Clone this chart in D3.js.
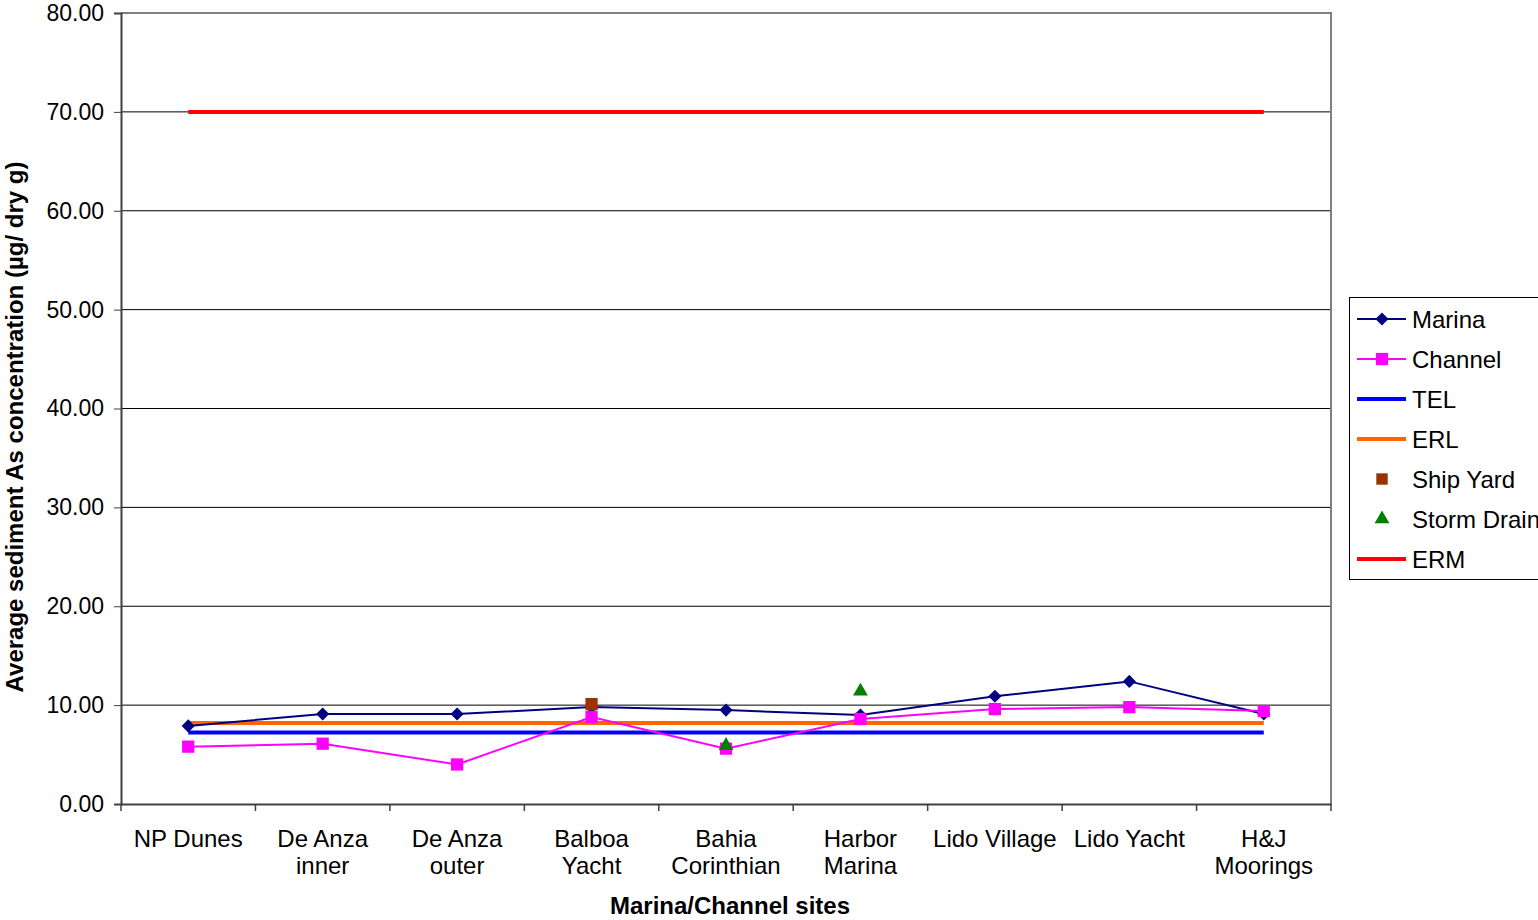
<!DOCTYPE html>
<html>
<head>
<meta charset="utf-8">
<script src="https://cdn.jsdelivr.net/npm/d3@7"></script>
<style>
  body { margin: 0; background: #fff; }
  svg { font-family: "Liberation Sans", Arial, sans-serif; }
</style>
</head>
<body>
<svg id="chart" width="1538" height="920"></svg>
<script>
var sites = ["NP Dunes", "De Anza inner", "De Anza outer", "Balboa Yacht", "Bahia Corinthian",
             "Harbor Marina", "Lido Village", "Lido Yacht", "H&J Moorings"]
var siteLines = [["NP Dunes"], ["De Anza", "inner"], ["De Anza", "outer"], ["Balboa", "Yacht"],
                 ["Bahia", "Corinthian"], ["Harbor", "Marina"], ["Lido Village"], ["Lido Yacht"], ["H&J", "Moorings"]]
var marina = [7.9, 9.1, 9.1, 9.8, 9.5, 9.0, 10.9, 12.4, 9.1]
var channel = [5.8, 6.1, 4.0, 8.8, 5.6, 8.6, 9.6, 9.8, 9.4]
var shipYard = [{site: "Balboa Yacht", value: 10.1}]
var stormDrain = [{site: "Bahia Corinthian", value: 5.9}, {site: "Harbor Marina", value: 11.4}]
var TEL = 7.24
var ERL = 8.2
var ERM = 70
var yTicks = [0, 10, 20, 30, 40, 50, 60, 70, 80]

var dimensions = {
    width: 1538,
    height: 920,
    margin: {top: 13, bottom: 116, left: 121, right: 207}
}
var plotW = dimensions.width - dimensions.margin.left - dimensions.margin.right
var plotH = dimensions.height - dimensions.margin.top - dimensions.margin.bottom

var svg = d3.select("#chart")

var x = d3.scaleBand()
          .domain(sites)
          .range([dimensions.margin.left, dimensions.margin.left + plotW])
var xc = d => x(d) + x.bandwidth() / 2

var y = d3.scaleLinear()
          .domain([0, 80])
          .range([dimensions.margin.top + plotH, dimensions.margin.top])

// gridlines
svg.append("g")
   .selectAll("line")
   .data(yTicks.filter(t => t > 0))
   .enter()
   .append("line")
   .attr("x1", dimensions.margin.left)
   .attr("x2", dimensions.margin.left + plotW)
   .attr("y1", d => y(d))
   .attr("y2", d => y(d))
   .attr("stroke", "#000")
   .attr("stroke-width", 1)

// plot border right and top
svg.append("path")
   .attr("d", `M${dimensions.margin.left},${y(80)}H${dimensions.margin.left + plotW}V${y(0)}`)
   .attr("fill", "none")
   .attr("stroke", "#808080")
   .attr("stroke-width", 2)

// y axis
var yAxis = svg.append("g")
               .attr("transform", `translate(${dimensions.margin.left},0)`)
               .call(d3.axisLeft(y).tickValues(yTicks).tickFormat(d3.format(".2f")).tickSize(7).tickPadding(10))
yAxis.select(".domain").attr("stroke", "#404040").attr("stroke-width", 2)
yAxis.selectAll(".tick line").attr("stroke", "#404040")
yAxis.selectAll("text").style("font-size", "23px").attr("fill", "#000").attr("font-family", "Liberation Sans, Arial, sans-serif")

// x axis
var xAxis = svg.append("g")
               .attr("transform", `translate(0,${y(0)})`)
               .call(d3.axisBottom(x).tickSize(0).tickFormat(""))
xAxis.select(".domain").attr("stroke", "#404040").attr("stroke-width", 2)
svg.append("g")
   .selectAll("line")
   .data(sites.map(d => x(d)).concat([dimensions.margin.left + plotW]))
   .enter()
   .append("line")
   .attr("x1", d => d)
   .attr("x2", d => d)
   .attr("y1", y(0))
   .attr("y2", y(0) + 7)
   .attr("stroke", "#404040")
   .attr("stroke-width", 1.5)

var catLabels = svg.append("g")
                   .selectAll("text")
                   .data(sites)
                   .enter()
                   .append("text")
                   .attr("x", d => xc(d))
                   .attr("y", 847)
                   .attr("text-anchor", "middle")
                   .style("font-size", "24px")
catLabels.each(function(d, i) {
    var t = d3.select(this)
    siteLines[i].forEach((line, j) => {
        t.append("tspan").attr("x", xc(d)).attr("dy", j === 0 ? 0 : 27).text(line)
    })
})

// axis titles
svg.append("text")
   .attr("x", 730)
   .attr("y", 914)
   .attr("text-anchor", "middle")
   .style("font-size", "24px")
   .style("font-weight", "bold")
   .text("Marina/Channel sites")

svg.append("text")
   .attr("transform", `translate(23,427) rotate(-90)`)
   .attr("text-anchor", "middle")
   .style("font-size", "24px")
   .style("font-weight", "bold")
   .text("Average sediment As concentration (µg/ dry g)")

// reference lines
var refLines = [{name: "TEL", value: TEL, color: "#0000FF"},
                {name: "ERL", value: ERL, color: "#FF6600"},
                {name: "ERM", value: ERM, color: "#FF0000"}]
svg.append("g")
   .selectAll("line")
   .data(refLines)
   .enter()
   .append("line")
   .attr("x1", xc(sites[0]))
   .attr("x2", xc(sites[sites.length - 1]))
   .attr("y1", d => y(d.value))
   .attr("y2", d => y(d.value))
   .attr("stroke", d => d.color)
   .attr("stroke-width", 4)

// series lines
var line = d3.line().x((d, i) => xc(sites[i])).y(d => y(d))

svg.append("path")
   .datum(marina)
   .attr("d", line)
   .attr("fill", "none")
   .attr("stroke", "#000080")
   .attr("stroke-width", 2)

svg.append("path")
   .datum(channel)
   .attr("d", line)
   .attr("fill", "none")
   .attr("stroke", "#FF00FF")
   .attr("stroke-width", 2)

var diamond = d3.symbol().type(d3.symbolDiamond2).size(110)
var square = d3.symbol().type(d3.symbolSquare).size(150)
var triangle = d3.symbol().type(d3.symbolTriangle).size(95)

svg.append("g")
   .selectAll("path")
   .data(marina)
   .enter()
   .append("path")
   .attr("d", diamond)
   .attr("transform", (d, i) => `translate(${xc(sites[i])},${y(d)})`)
   .attr("fill", "#000080")

svg.append("g")
   .selectAll("path")
   .data(channel)
   .enter()
   .append("path")
   .attr("d", square)
   .attr("transform", (d, i) => `translate(${xc(sites[i])},${y(d)})`)
   .attr("fill", "#FF00FF")

svg.append("g")
   .selectAll("path")
   .data(shipYard)
   .enter()
   .append("path")
   .attr("d", square)
   .attr("transform", d => `translate(${xc(d.site)},${y(d.value)})`)
   .attr("fill", "#993300")

svg.append("g")
   .selectAll("path")
   .data(stormDrain)
   .enter()
   .append("path")
   .attr("d", triangle)
   .attr("transform", d => `translate(${xc(d.site)},${y(d.value)})`)
   .attr("fill", "#008000")

// legend
var legendItems = [
    {name: "Marina", color: "#000080", line: 2, sym: diamond},
    {name: "Channel", color: "#FF00FF", line: 2, sym: square},
    {name: "TEL", color: "#0000FF", line: 4, sym: null},
    {name: "ERL", color: "#FF6600", line: 4, sym: null},
    {name: "Ship Yard", color: "#993300", line: 0, sym: d3.symbol().type(d3.symbolSquare).size(130)},
    {name: "Storm Drain", color: "#008000", line: 0, sym: triangle},
    {name: "ERM", color: "#FF0000", line: 4, sym: null}
]

svg.append("rect")
   .attr("x", 1349.5)
   .attr("y", 297.5)
   .attr("width", 200)
   .attr("height", 282)
   .attr("fill", "#fff")
   .attr("stroke", "#000")
   .attr("stroke-width", 1)

var legend = svg.append("g")
                .selectAll("g")
                .data(legendItems)
                .enter()
                .append("g")
                .attr("transform", (d, i) => `translate(1357,${319 + i * 40})`)

legend.filter(d => d.line > 0)
      .append("line")
      .attr("x1", 0)
      .attr("x2", 49)
      .attr("stroke", d => d.color)
      .attr("stroke-width", d => d.line)

legend.filter(d => d.sym)
      .append("path")
      .attr("d", d => d.sym())
      .attr("transform", "translate(25,0)")
      .attr("fill", d => d.color)

legend.append("text")
      .attr("x", 55)
      .attr("dy", "0.36em")
      .style("font-size", "24px")
      .text(d => d.name)
</script>
</body>
</html>
